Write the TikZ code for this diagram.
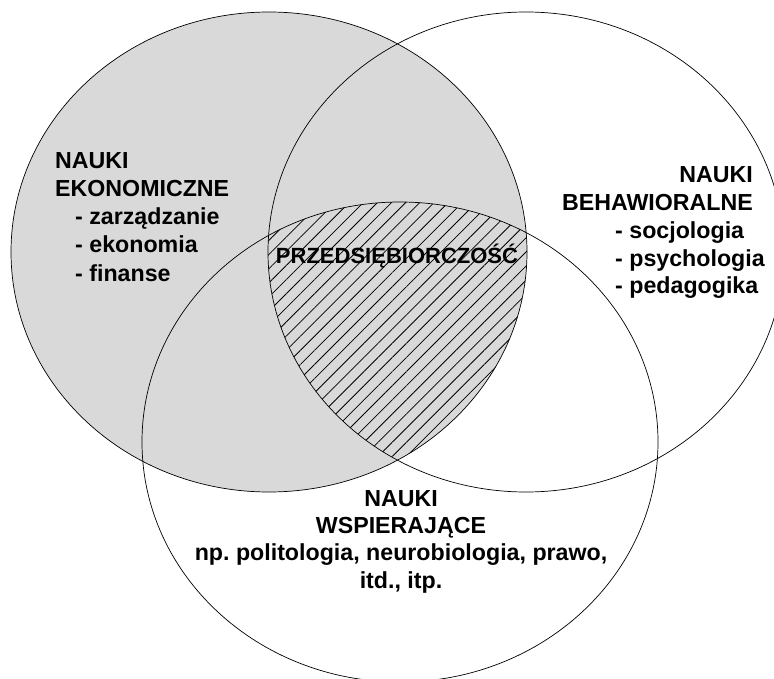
\documentclass[tikz,border=0pt]{standalone}
\usepackage{fontspec}
\setmainfont{Liberation Sans}
\usetikzlibrary{patterns.meta}
\definecolor{venngray}{RGB}{217,217,217}
\tikzset{
  areatext/.style={font=\bfseries\fontsize{23.2}{28}\selectfont, inner sep=0pt},
  centretext/.style={font=\bfseries\fontsize{22}{26}\selectfont, inner sep=0pt},
  venn/.style={draw=black, line width=0.7pt}
}
\frenchspacing
\begin{document}
\begin{tikzpicture}[x=1pt, y=-1pt]
        \useasboundingbox (0, 0) rectangle (774, 679);
        \fill[venngray] (269, 252) ellipse [x radius=258pt, y radius=240pt];
        \begin{scope}
            \clip (269, 252) ellipse [x radius=258pt, y radius=240pt];
            \clip (526, 252) ellipse [x radius=258pt, y radius=240pt];
            \fill[pattern={Lines[angle=45, distance=10pt, line width=0.8pt]}] (400, 442) ellipse [x radius=258pt, y radius=240pt];
        \end{scope}
        \draw[venn] (269, 252) ellipse [x radius=258pt, y radius=240pt];
        \draw[venn] (526, 252) ellipse [x radius=258pt, y radius=240pt];
        \draw[venn] (400, 442) ellipse [x radius=258pt, y radius=240pt];
        \node[areatext, anchor=base west] (eko1) at (55, 169) {NAUKI};
        \node[areatext, anchor=base west] (eko2) at (55, 197) {EKONOMICZNE};
        \node[areatext, anchor=base west] (eko3) at (75, 225) {- zarządzanie};
        \node[areatext, anchor=base west] (eko4) at (75, 253) {- ekonomia};
        \node[areatext, anchor=base west] (eko5) at (75, 282) {- finanse};
        \node[areatext, anchor=base east] (beh1) at (753, 183) {NAUKI};
        \node[areatext, anchor=base east] (beh2) at (753, 211) {BEHAWIORALNE};
        \node[areatext, anchor=base west] (beh3) at (615, 239) {- socjologia};
        \node[areatext, anchor=base west] (beh4) at (615, 266) {- psychologia};
        \node[areatext, anchor=base west] (beh5) at (615, 294) {- pedagogika};
        \node[areatext, anchor=base] (wsp1) at (401, 506) {NAUKI};
        \node[areatext, anchor=base] (wsp2) at (401, 533) {WSPIERAJĄCE};
        \node[areatext, anchor=base] (wsp3) at (401, 560) {np. politologia, neurobiologia, prawo,};
        \node[areatext, anchor=base] (wsp4) at (401, 588) {itd., itp.};
        \node[centretext, anchor=base] (centre) at (397, 263) {PRZEDSIĘBIORCZOŚĆ};
    \end{tikzpicture}
\end{document}
